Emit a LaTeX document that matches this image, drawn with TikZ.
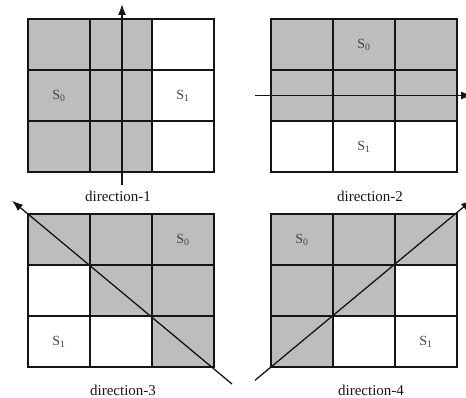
\documentclass[tikz,border=0pt]{standalone}
\usepackage{fontspec}
\setmainfont{Liberation Serif}
\usetikzlibrary{arrows.meta}
\definecolor{ink}{HTML}{151515}
\definecolor{cellgray}{HTML}{BDBDBD}

\begin{document}
\begin{tikzpicture}[x=1pt,y=-1pt,>={Latex[length=11pt,width=8pt]},
  greycell/.style={fill=cellgray},
  gridline/.style={draw=ink,line width=1.3pt},
  dirarrow/.style={draw=ink,line width=1.3pt,->},
  statelabel/.style={font=\fontsize{14}{16}\selectfont,text=ink!80},
  caption/.style={font=\fontsize{15}{17}\selectfont,text=ink}]
  \useasboundingbox (0,0) rectangle (466,398);

  % grey cells
  \fill[greycell] (28,19) rectangle (152,172);
  \fill[greycell] (271,19) rectangle (457,121);
  \fill[greycell] (28,214) -- (214,214) -- (214,367) -- (152,367)
    -- (152,316) -- (90,316) -- (90,265) -- (28,265) -- cycle;
  \fill[greycell] (271,214) -- (457,214) -- (457,265) -- (395,265)
    -- (395,316) -- (333,316) -- (333,367) -- (271,367) -- cycle;

  % the four 3x3 grids
  \foreach \ox/\oy in {28/19,271/19,28/214,271/214} {
    \begin{scope}[shift={(\ox,\oy)}]
      \draw[gridline] (0,0) rectangle (186,153);
      \foreach \c in {62,124} \draw[gridline] (\c,0) -- (\c,153);
      \foreach \r in {51,102} \draw[gridline] (0,\r) -- (186,\r);
    \end{scope}
  }

  % direction-1
  \coordinate (d1from) at (122,185);
  \coordinate (d1to) at (122,4);
  \draw[dirarrow] (d1from) -- (d1to);
  \node[statelabel] (s0a) at (59,96) {S\textsubscript{0}};
  \node[statelabel] (s1a) at (183,96) {S\textsubscript{1}};
  \node[caption] (cap1) at (118,196) {direction-1};

  % direction-2
  \coordinate (d2from) at (255,95.5);
  \coordinate (d2to) at (472,95.5);
  \draw[dirarrow] (d2from) -- (d2to);
  \node[statelabel] (s0b) at (364,45) {S\textsubscript{0}};
  \node[statelabel] (s1b) at (364,147) {S\textsubscript{1}};
  \node[caption] (cap2) at (370,196) {direction-2};

  % direction-3
  \coordinate (d3from) at (232,384);
  \coordinate (d3to) at (12,200.7);
  \draw[dirarrow] (d3from) -- (d3to);
  \node[statelabel] (s0c) at (183,240) {S\textsubscript{0}};
  \node[statelabel] (s1c) at (59,342) {S\textsubscript{1}};
  \node[caption] (cap3) at (123,390) {direction-3};

  % direction-4
  \coordinate (d4from) at (255,380.3);
  \coordinate (d4to) at (472,200);
  \draw[dirarrow] (d4from) -- (d4to);
  \node[statelabel] (s0d) at (302,240) {S\textsubscript{0}};
  \node[statelabel] (s1d) at (426,342) {S\textsubscript{1}};
  \node[caption] (cap4) at (371,390) {direction-4};
\end{tikzpicture}
\end{document}
